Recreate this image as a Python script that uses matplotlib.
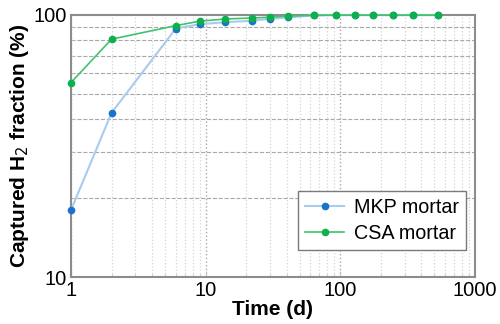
import matplotlib
matplotlib.use("Agg")
import matplotlib.pyplot as plt
from matplotlib.ticker import NullFormatter, FixedLocator, LogLocator

plt.rcParams['font.family'] = ['Liberation Sans', 'DejaVu Sans']

# time (d)
days = [1, 2, 6, 9, 14, 22, 30, 41, 64, 93, 129, 176, 245, 345, 530]
# captured H2 fraction (%)
mkp = [18.0, 42.3, 88.7, 92.1, 93.8, 95.0, 96.6, 97.8, 99.6, 99.8, 99.8, 99.8, 99.8, 99.8, 99.8]
csa = [55.2, 80.8, 91.0, 94.6, 96.5, 97.3, 98.0, 99.0, 99.6, 99.8, 99.8, 99.8, 99.8, 99.8, 99.8]

fig = plt.figure(figsize=(5.0, 3.24), dpi=100)
ax = fig.add_axes([0.142, 0.145, 0.808, 0.809])

ax.plot(days, mkp, color='#a9cbec', lw=1.5, marker='o', ms=4.5,
        mfc='#1b72cc', mec='#1b72cc', label='MKP mortar', clip_on=False, zorder=3)
ax.plot(days, csa, color='#3ec46c', lw=1.2, marker='o', ms=4.5,
        mfc='#0cb14b', mec='#0cb14b', label='CSA mortar', clip_on=False, zorder=4)

ax.set_xscale('log')
ax.set_yscale('log')
ax.set_xlim(1, 1000)
ax.set_ylim(10, 100)

ax.xaxis.set_major_locator(FixedLocator([1, 10, 100, 1000]))
ax.set_xticklabels(['1', '10', '100', '1000'])
ax.xaxis.set_minor_locator(LogLocator(base=10, subs=range(2, 10)))
ax.xaxis.set_minor_formatter(NullFormatter())
ax.yaxis.set_major_locator(FixedLocator([10, 100]))
ax.set_yticklabels(['10', '100'])
ax.yaxis.set_minor_locator(LogLocator(base=10, subs=range(2, 10)))
ax.yaxis.set_minor_formatter(NullFormatter())

ax.grid(which='minor', axis='y', ls='--', color='#a8a8a8', lw=0.8)
ax.grid(which='major', axis='x', ls=':', color='#a8a8a8', lw=1.0)
ax.grid(which='minor', axis='x', ls=':', color='#d4d4d4', lw=0.9)

ax.tick_params(which='both', direction='in', colors='#c0c0c0', labelcolor='black')
ax.tick_params(which='major', labelsize=14.5, length=4, pad=3)
ax.tick_params(which='minor', length=2.5)
for s in ax.spines.values():
    s.set_color('#8c8c8c')
    s.set_linewidth(1.5)

ax.set_xlabel('Time (d)', fontsize=15, fontweight='bold', labelpad=0)
ax.set_ylabel('Captured H$_2$ fraction (%)', fontsize=15, fontweight='bold', labelpad=2)

leg = ax.legend(loc='lower right', fontsize=14.2, fancybox=False, framealpha=1,
                edgecolor='#7a7a7a', handlelength=2.0, borderpad=0.35,
                labelspacing=0.35, handletextpad=0.5, borderaxespad=0,
                bbox_to_anchor=(0.978, 0.103))
leg.get_frame().set_linewidth(1.0)

fig.savefig('out.png', dpi=100)
